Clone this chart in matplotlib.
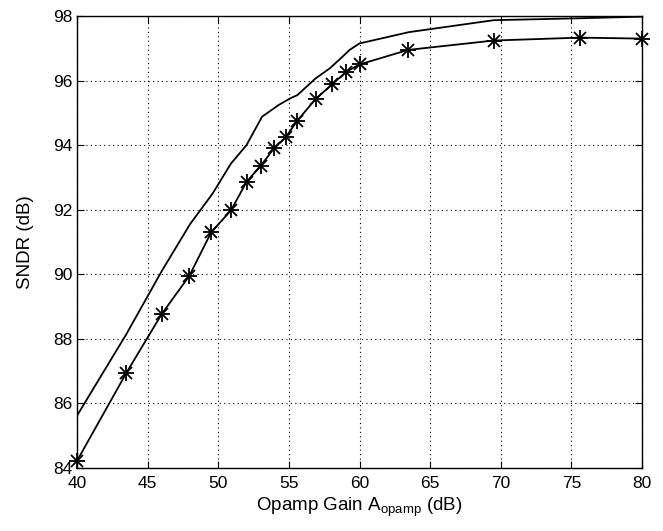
import matplotlib
matplotlib.use("Agg")
import matplotlib.pyplot as plt

plt.rcParams['font.family'] = ['Liberation Sans', 'DejaVu Sans']
plt.rcParams['mathtext.fontset'] = 'custom'
plt.rcParams['mathtext.rm'] = 'Liberation Sans'
plt.rcParams['mathtext.it'] = 'Liberation Sans'

# starred series (simulated)
gain_star = [40.0, 43.5, 46.0, 47.95, 49.5, 50.9, 52.0, 53.0, 53.95, 54.8, 55.6, 56.9, 58.05, 59.05, 60.0, 63.45, 69.5, 75.6, 80.0]
sndr_star = [84.22, 86.95, 88.77, 89.95, 91.3, 91.98, 92.86, 93.36, 93.9, 94.26, 94.76, 95.43, 95.88, 96.27, 96.5, 96.95, 97.24, 97.33, 97.3]

# plain series
gain_line = [40.0, 43.5, 46.0, 48.0, 49.6, 50.9, 52.0, 53.1, 54.3, 55.1, 55.6, 56.9, 57.9, 58.7, 59.3, 60.0, 63.5, 69.5, 75.6, 80.0]
sndr_line = [85.62, 88.15, 90.1, 91.55, 92.5, 93.43, 94.0, 94.88, 95.25, 95.45, 95.55, 96.07, 96.38, 96.7, 96.95, 97.15, 97.5, 97.87, 97.93, 97.98]

xticks = [40, 45, 50, 55, 60, 65, 70, 75, 80]
yticks = [84, 86, 88, 90, 92, 94, 96, 98]

fig = plt.figure(figsize=(6.63, 5.31), dpi=100)
ax = fig.add_axes([77/663, 1 - 468/531, (642-77)/663, (468-16)/531])

ax.plot(gain_line, sndr_line, color='black', lw=1.3)
ax.plot(gain_star, sndr_star, color='black', lw=1.3)
# MATLAB-style asterisk marker: '+' combined with 'x'
ax.plot(gain_star, sndr_star, linestyle='none', marker='+', markersize=12,
        markeredgewidth=1.3, color='black', clip_on=False)
ax.plot(gain_star, sndr_star, linestyle='none', marker='x', markersize=8.5,
        markeredgewidth=1.3, color='black', clip_on=False)

ax.set_xlim(40, 80)
ax.set_ylim(84, 98)
ax.set_xticks(xticks)
ax.set_yticks(yticks)
ax.grid(True, linestyle=(0, (1, 3)), color='black', lw=0.8)
ax.tick_params(direction='in', top=True, right=True, labelsize=12.5, length=5)
ax.tick_params(axis='x', pad=6)
ax.tick_params(axis='y', pad=3)
for s in ax.spines.values():
    s.set_linewidth(1.0)
ax.set_xlabel(r'Opamp Gain A$_{\mathrm{opamp}}$ (dB)', fontsize=13.5, labelpad=3)
ax.set_ylabel('SNDR (dB)', fontsize=13.5, labelpad=14)

fig.savefig('out.png', dpi=100)
